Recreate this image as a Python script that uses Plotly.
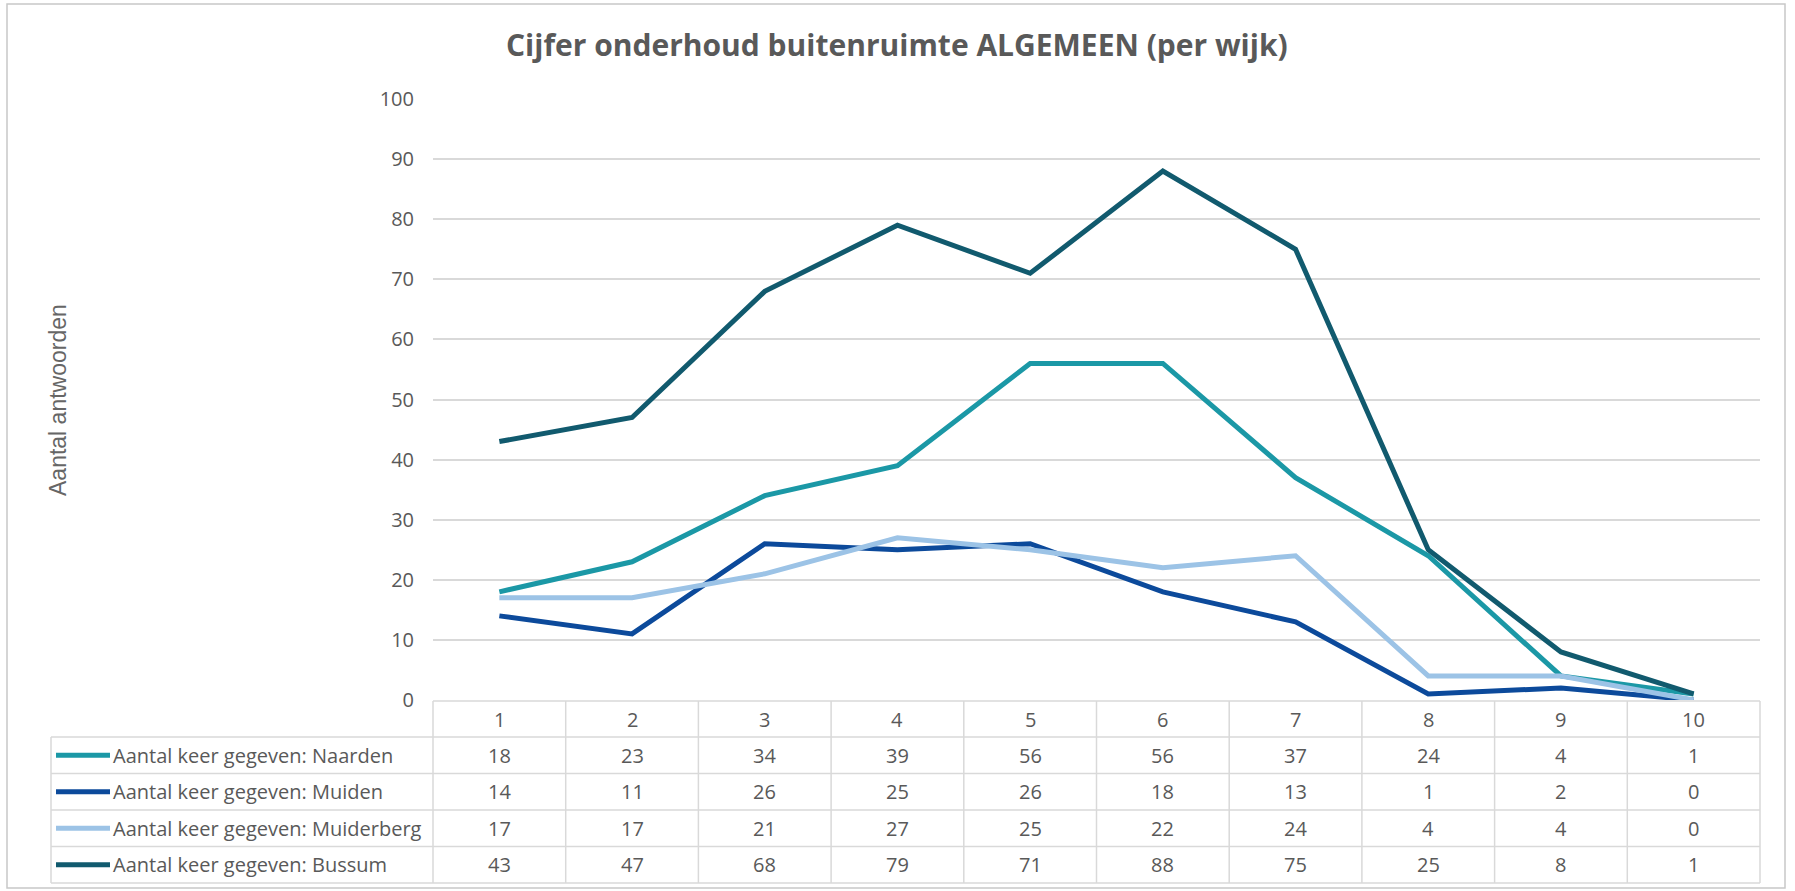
import plotly.graph_objects as go

# ---------------- data ----------------
categories = ["1", "2", "3", "4", "5", "6", "7", "8", "9", "10"]
naarden = [18, 23, 34, 39, 56, 56, 37, 24, 4, 1]
muiden = [14, 11, 26, 25, 26, 18, 13, 1, 2, 0]
muiderberg = [17, 17, 21, 27, 25, 22, 24, 4, 4, 0]
bussum = [43, 47, 68, 79, 71, 88, 75, 25, 8, 1]
series_names = [
    "Aantal keer gegeven: Naarden",
    "Aantal keer gegeven: Muiden",
    "Aantal keer gegeven: Muiderberg",
    "Aantal keer gegeven: Bussum",
]
series_values = [naarden, muiden, muiderberg, bussum]
series_colors = ["#1B98A6", "#0C4A9B", "#9CC3E6", "#115A6E"]
y_ticks = list(range(0, 101, 10))
chart_title = "Cijfer onderhoud buitenruimte ALGEMEEN (per wijk)"
y_title = "Aantal antwoorden"

# ---------------- layout geometry (pixels) ----------------
W, H = 1795, 891
PLOT_X0, PLOT_X1 = 433, 1760
PLOT_Y_BOTTOM, PLOT_Y_TOP = 700, 99
TABLE_LEFT = 51
HEADER_TOP = 701
HEADER_BOTTOM = 737
ROW_H = 36.5
GRID = "#D9D9D9"
TXT = "#595959"
FONT = "Open Sans, Noto Sans, sans-serif"


def px(x):
    return x / W


def py(y):
    return 1 - y / H


fig = go.Figure()
for name, vals, col in zip(series_names, series_values, series_colors):
    fig.add_trace(go.Scatter(
        x=categories, y=vals, mode="lines", name=name,
        line=dict(color=col, width=5), showlegend=False,
    ))

shapes = []
annotations = []

# chart border
shapes.append(dict(type="rect", xref="paper", yref="paper",
                   x0=px(7), x1=px(1785), y0=py(888), y1=py(4),
                   line=dict(color="#C8C8C8", width=1.5), layer="below"))

n = len(categories)
col_w = (PLOT_X1 - PLOT_X0) / n
row_bottoms = [HEADER_BOTTOM + ROW_H * (i + 1) for i in range(len(series_names))]
table_bottom = row_bottoms[-1]

shapes.append(dict(type="line", xref="paper", yref="paper",
                   x0=px(PLOT_X0), x1=px(PLOT_X1), y0=py(HEADER_TOP), y1=py(HEADER_TOP),
                   line=dict(color=GRID, width=1.5)))
for yy in [HEADER_BOTTOM] + row_bottoms:
    shapes.append(dict(type="line", xref="paper", yref="paper",
                       x0=px(TABLE_LEFT), x1=px(PLOT_X1), y0=py(yy), y1=py(yy),
                       line=dict(color=GRID, width=1.5)))
shapes.append(dict(type="line", xref="paper", yref="paper",
                   x0=px(TABLE_LEFT), x1=px(TABLE_LEFT), y0=py(HEADER_BOTTOM), y1=py(table_bottom),
                   line=dict(color=GRID, width=1.5)))
for i in range(n + 1):
    xx = PLOT_X0 + col_w * i
    shapes.append(dict(type="line", xref="paper", yref="paper",
                       x0=px(xx), x1=px(xx), y0=py(HEADER_TOP), y1=py(table_bottom),
                       line=dict(color=GRID, width=1.5)))

for i, c in enumerate(categories):
    annotations.append(dict(x=px(PLOT_X0 + col_w * (i + 0.5)), y=py((HEADER_TOP + HEADER_BOTTOM) / 2),
                            xref="paper", yref="paper", text=c, showarrow=False,
                            font=dict(family=FONT, size=20, color=TXT),
                            xanchor="center", yanchor="middle"))

for r, (name, vals, col) in enumerate(zip(series_names, series_values, series_colors)):
    yc = HEADER_BOTTOM + ROW_H * (r + 0.5)
    shapes.append(dict(type="line", xref="paper", yref="paper",
                       x0=px(56), x1=px(110), y0=py(yc), y1=py(yc),
                       line=dict(color=col, width=5)))
    annotations.append(dict(x=px(111), y=py(yc), xref="paper", yref="paper",
                            text=name, showarrow=False,
                            font=dict(family=FONT, size=20, color=TXT),
                            xanchor="left", yanchor="middle"))
    for i, v in enumerate(vals):
        annotations.append(dict(x=px(PLOT_X0 + col_w * (i + 0.5)), y=py(yc),
                                xref="paper", yref="paper", text=str(v), showarrow=False,
                                font=dict(family=FONT, size=20, color=TXT),
                                xanchor="center", yanchor="middle"))

annotations.append(dict(x=px(897), y=py(45), xref="paper", yref="paper",
                        text="<b>" + chart_title + "</b>", showarrow=False,
                        font=dict(family=FONT, size=30, color=TXT),
                        xanchor="center", yanchor="middle"))
annotations.append(dict(x=px(58), y=py(400), xref="paper", yref="paper",
                        text=y_title, showarrow=False, textangle=-90,
                        font=dict(family="Liberation Sans, Arial, sans-serif", size=23, color="#666666"),
                        xanchor="center", yanchor="middle"))

fig.update_layout(
    width=W, height=H,
    margin=dict(l=0, r=0, t=0, b=0, pad=0, autoexpand=False),
    paper_bgcolor="white", plot_bgcolor="white",
    shapes=shapes, annotations=annotations,
    xaxis=dict(domain=[px(PLOT_X0), px(PLOT_X1)], range=[-0.5, n - 0.5],
               type="category", visible=False, showgrid=False, zeroline=False),
    yaxis=dict(domain=[py(PLOT_Y_BOTTOM), py(PLOT_Y_TOP)], range=[0, 100],
               tickvals=y_ticks, showgrid=True, gridcolor=GRID, gridwidth=1.5,
               zeroline=False, showline=False, ticks="",
               tickfont=dict(family=FONT, size=20, color=TXT),
               ticklabelstandoff=18, automargin=False),
    showlegend=False,
)

fig.write_html("out.html", config={"displayModeBar": False},
               post_script="document.body.style.margin='0';document.body.style.overflow='hidden';")
